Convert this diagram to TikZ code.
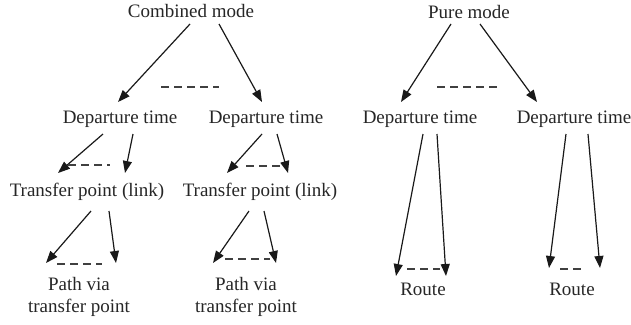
\documentclass[tikz,border=0pt]{standalone}
\usepackage{fontspec}
\setmainfont{Liberation Serif}
\usetikzlibrary{arrows.meta}
\begin{document}
\begin{tikzpicture}[x=1pt,y=-1pt,
  lbl/.style={inner sep=0pt,anchor=base,font=\fontsize{19}{22}\selectfont,text=black!85},
  arr/.style={line width=1.2pt,-{Triangle[length=12pt,width=9pt]},black!90},
  dsh/.style={line width=1.2pt,dash pattern=on 8pt off 5pt,black!75}]
\useasboundingbox (0,0) rectangle (631,324);
% text nodes
\node[lbl] (cm) at (191,17) {Combined mode};
\node[lbl] (pm) at (469,18) {Pure mode};
\node[lbl] (d1) at (120,123) {Departure time};
\node[lbl] (d2) at (266,123) {Departure time};
\node[lbl] (d3) at (420,123) {Departure time};
\node[lbl] (d4) at (574,123) {Departure time};
\node[lbl] (t1) at (87,196) {Transfer point (link)};
\node[lbl] (t2) at (260,196) {Transfer point (link)};
\node[lbl,align=center] (p1) at (79,312) {Path via\\transfer point};
\node[lbl,align=center] (p2) at (246,312) {Path via\\transfer point};
\node[lbl] (r1) at (423,295) {Route};
\node[lbl] (r2) at (572,295) {Route};
% connector end points
\coordinate (a1s) at (190,24);  \coordinate (a1e) at (118,102);
\coordinate (a2s) at (219,24);  \coordinate (a2e) at (262,102);
\coordinate (a3s) at (451,24);  \coordinate (a3e) at (401,102);
\coordinate (a4s) at (480,24);  \coordinate (a4e) at (537,102);
\coordinate (b1s) at (103,134); \coordinate (b1e) at (58,173);
\coordinate (b2s) at (133,134); \coordinate (b2e) at (125,173);
\coordinate (b3s) at (262,134); \coordinate (b3e) at (227,173);
\coordinate (b4s) at (277,134); \coordinate (b4e) at (288,173);
\coordinate (c1s) at (91,211);  \coordinate (c1e) at (46,263);
\coordinate (c2s) at (109,211); \coordinate (c2e) at (116,263);
\coordinate (c3s) at (249,211); \coordinate (c3e) at (213,263);
\coordinate (c4s) at (264,211); \coordinate (c4e) at (276,263);
\coordinate (e1s) at (423,134); \coordinate (e1e) at (396,276);
\coordinate (e2s) at (437,134); \coordinate (e2e) at (446,276);
\coordinate (e3s) at (566,134); \coordinate (e3e) at (549,268);
\coordinate (e4s) at (588,134); \coordinate (e4e) at (600,268);
% arrows
\foreach \p in {a1,a2,a3,a4,b1,b2,b3,b4,c1,c2,c3,c4,e1,e2,e3,e4}
  \draw[arr] (\p s) -- (\p e);
% dashed lines
\coordinate (f1s) at (161,87);  \coordinate (f1e) at (219,87);
\coordinate (f2s) at (437,87);  \coordinate (f2e) at (500,87);
\coordinate (g1s) at (68,165);  \coordinate (g1e) at (110,165);
\coordinate (g2s) at (246,166); \coordinate (g2e) at (280,166);
\coordinate (h1s) at (57,264);  \coordinate (h1e) at (102,264);
\coordinate (h2s) at (225,259); \coordinate (h2e) at (270,259);
\coordinate (k1s) at (407,269); \coordinate (k1e) at (440,269);
\coordinate (k2s) at (560,269); \coordinate (k2e) at (584,269);
\foreach \p in {f1,f2,g1,g2,h1,h2,k1,k2}
  \draw[dsh] (\p s) -- (\p e);
\end{tikzpicture}
\end{document}
